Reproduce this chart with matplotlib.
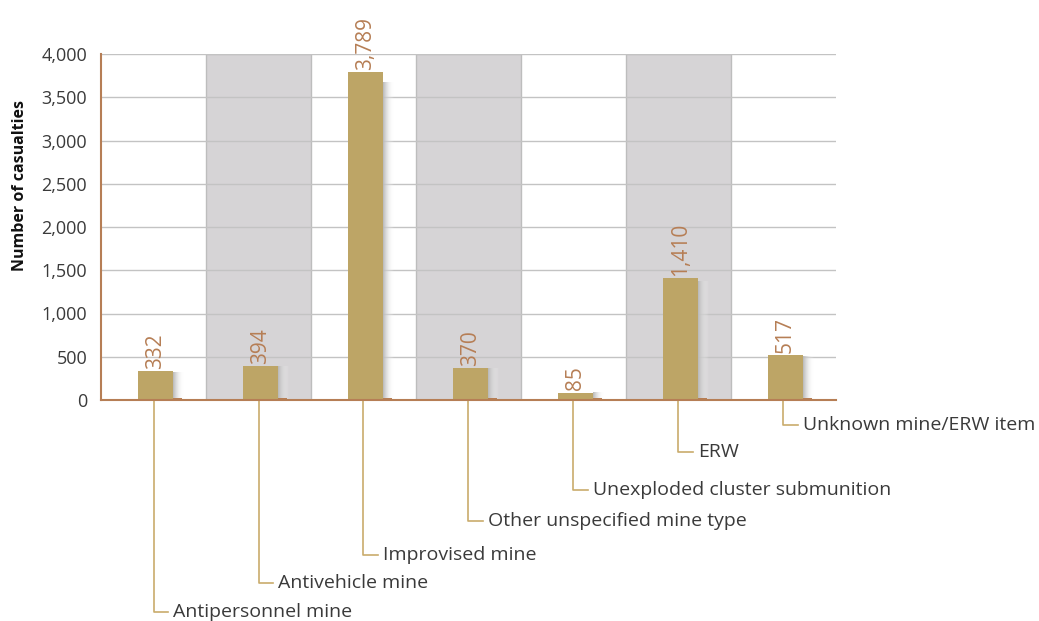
import numpy as np
import matplotlib.pyplot as plt
import matplotlib.colors as mcolors

plt.rcParams['font.family'] = ['Open Sans', 'DejaVu Sans']

categories = ['Antipersonnel mine', 'Antivehicle mine', 'Improvised mine',
              'Other unspecified mine type', 'Unexploded cluster submunition',
              'ERW', 'Unknown mine/ERW item']
casualties = [332, 394, 3789, 370, 85, 1410, 517]
# how far below the axis each category label sits (data units)
label_drop = [2450, 2110, 1790, 1400, 1040, 600, 290]

bar_col = '#bda566'
brown = '#b67e55'
leader_col = '#c9ac6c'
band_col = '#d6d4d6'

fig = plt.figure(figsize=(10.39, 6.21), dpi=100)
ax = fig.add_axes([101 / 1039, 1 - 400 / 621, 735 / 1039, 346 / 621])

n = len(categories)
x = np.arange(n)

# alternating shaded bands
for i in range(1, n, 2):
    ax.axvspan(i - 0.5, i + 0.5, facecolor=band_col, edgecolor='#bdbdbd', lw=1, zorder=0)

ax.set_yticks(np.arange(0, 4001, 500))
ax.yaxis.grid(True, color='#c3c3c3', lw=1, zorder=1)
ax.set_axisbelow(True)

w = 0.33
off = 0.02
# shadow gradient to the right of each bar
grad = np.linspace(0, 1, 50).reshape(1, -1)
cmap = mcolors.LinearSegmentedColormap.from_list('sh', ['#b8b8b8', '#ffffff00'])
for xi, v in zip(x, casualties):
    ax.imshow(grad, cmap=cmap, aspect='auto', zorder=2,
              extent=(xi + off + w / 2, xi + off + w / 2 + 0.1, 0, v * 0.97),
              interpolation='bilinear')
    ax.bar(xi + off + w / 2 + 0.045, 25, width=0.09, color=brown, zorder=3)

ax.bar(x + off, casualties, width=w, color=bar_col, zorder=4)

for xi, v in zip(x, casualties):
    ax.text(xi + off, v + 25, f'{v:,}', rotation=90, ha='center', va='bottom',
            fontsize=15, color=brown, zorder=5)

ax.set_ylim(0, 4000)
ax.set_xlim(-0.5, n - 0.5)

# leader lines and labels below the axis
for xi, d, lab in zip(x, label_drop, categories):
    lx = xi
    ax.plot([lx, lx, lx + 0.14], [0, -d, -d], color=leader_col, lw=1.2,
            clip_on=False, zorder=5)
    ax.text(lx + 0.19, -d, lab, ha='left', va='center', fontsize=14,
            color='#3a3a3a', clip_on=False)

ax.set_xticks([])
ax.yaxis.set_major_formatter(plt.FuncFormatter(lambda v, p: f'{int(v):,}'))
ax.tick_params(axis='y', length=0, labelsize=13, labelcolor='#3a3a3a', pad=10)
for s in ['top', 'right']:
    ax.spines[s].set_visible(False)
for s in ['left', 'bottom']:
    ax.spines[s].set_color(brown)
    ax.spines[s].set_linewidth(1.5)
    ax.spines[s].set_zorder(6)

ax.set_ylabel('Number of casualties', fontsize=11.5, fontweight='bold', color='#111111')
ax.yaxis.set_label_coords(-0.1, 0.62)

fig.savefig('out.png', dpi=100)
